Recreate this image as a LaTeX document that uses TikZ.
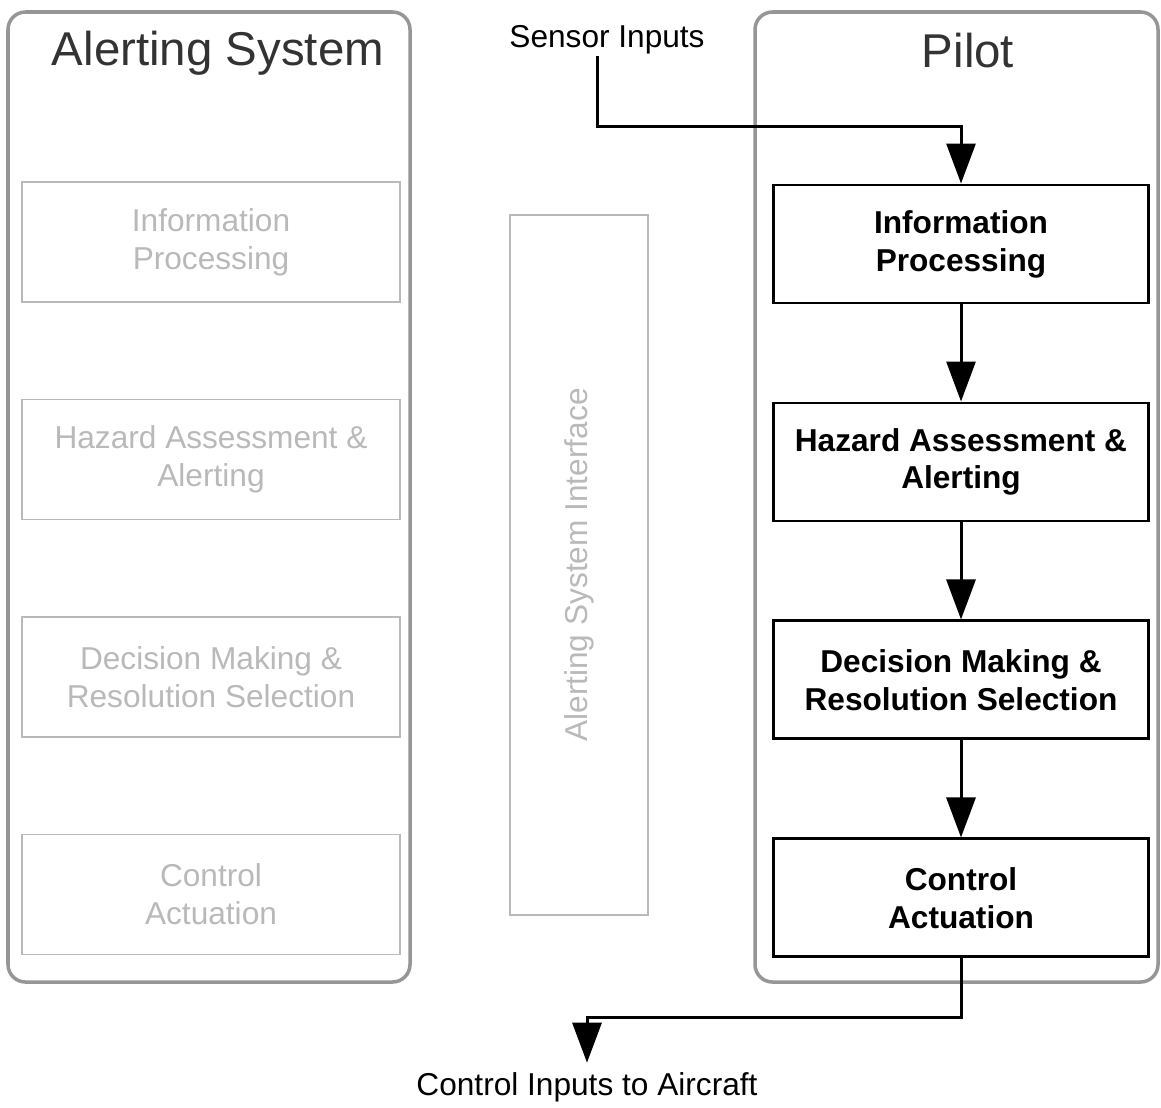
\documentclass[tikz,border=0pt]{standalone}
\usepackage{fontspec}
\setmainfont{Liberation Sans}
\definecolor{panelGray}{RGB}{150,150,150}
\definecolor{ghostGray}{RGB}{185,185,185}
\usetikzlibrary{arrows.meta,positioning}

\begin{document}
\begin{tikzpicture}[
  panel/.style={draw=panelGray, line width=2pt, rounded corners=0.35cm},
  ghost/.style={draw=ghostGray, line width=0.8pt, minimum width=7.56cm,
                minimum height=2.4cm, align=center, text=ghostGray,
                font=\fontsize{18}{21.5}\selectfont},
  stage/.style={draw, line width=1.7pt, minimum width=7.5cm,
                minimum height=2.36cm, align=center,
                font=\fontsize{18}{21.5}\selectfont\bfseries},
  title/.style={font=\fontsize{27}{30}\selectfont, text=black!80},
  label/.style={font=\fontsize{18}{21}\selectfont, inner sep=1pt},
  flow/.style={line width=1.7pt, -{Triangle[width=0.58cm, length=0.8cm]}}
]
  \useasboundingbox (0,0) rectangle (23.22,-22.14);

  % the two halves
  \draw[panel] (0.16,-0.24) rectangle (8.2,-19.64);
  \draw[panel] (15.1,-0.24) rectangle (23.16,-19.64);
  \node[title] (tsys)   at (4.36,-1.06)  {Alerting System};
  \node[title] (tpilot) at (19.36,-1.02) {Pilot};

  % alerting system stages (greyed out)
  \node[ghost] (ainfo)                      at (4.22,-4.84) {Information\\Processing};
  \node[ghost, below=1.92cm of ainfo] (ahaz) {Hazard Assessment \&\\Alerting};
  \node[ghost, below=1.92cm of ahaz]  (adec) {Decision Making \&\\Resolution Selection};
  \node[ghost, below=1.92cm of adec]  (actrl) {Control\\Actuation};

  \node[draw=ghostGray, line width=0.8pt, minimum width=2.76cm, minimum height=14cm,
        text=ghostGray, font=\fontsize{18}{21}\selectfont]
    (iface) at (11.58,-11.3) {\rotatebox{90}{Alerting System Interface}};

  % pilot stages
  \node[stage] (pinfo)                       at (19.22,-4.88) {Information\\Processing};
  \node[stage, below=1.94cm of pinfo] (phaz)  {Hazard Assessment \&\\Alerting};
  \node[stage, below=1.94cm of phaz]  (pdec)  {Decision Making \&\\Resolution Selection};
  \node[stage, below=1.94cm of pdec]  (pctrl) {Control\\Actuation};

  \node[label] (sensor) at (12.14,-0.8)   {Sensor Inputs};
  \node[label] (ctlout) at (11.74,-21.74) {Control Inputs to Aircraft};

  \draw[flow] ([xshift=-0.2cm]sensor.south) -- ++(0,-1.4) -| (pinfo.north);
  \draw[flow] (pinfo) -- (phaz);
  \draw[flow] (phaz) -- (pdec);
  \draw[flow] (pdec) -- (pctrl);
  \draw[flow] (pctrl.south) -- ++(0,-1.18) -| ([yshift=0.15cm]ctlout.north);
\end{tikzpicture}
\end{document}
